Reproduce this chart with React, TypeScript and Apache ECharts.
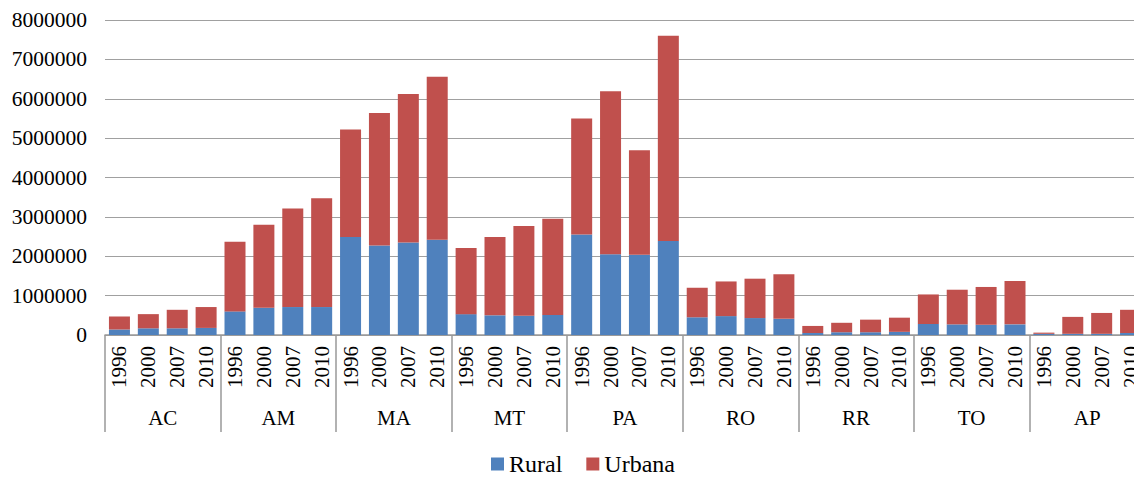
import React, { useEffect, useRef } from "react";
import * as echarts from "echarts";

const states = ["AC", "AM", "MA", "MT", "PA", "RO", "RR", "TO", "AP"];
const years = ["1996", "2000", "2007", "2010"];
const yTicks = { min: 0, max: 8000000, interval: 1000000 };

const rural = [
  140000, 170000, 170000, 180000,
  600000, 690000, 710000, 710000,
  2490000, 2270000, 2350000, 2420000,
  530000, 500000, 490000, 510000,
  2550000, 2050000, 2040000, 2390000,
  450000, 480000, 430000, 410000,
  50000, 70000, 70000, 80000,
  280000, 270000, 260000, 270000,
  30000, 30000, 30000, 50000,
];

const urbana = [
  330000, 360000, 470000, 530000,
  1770000, 2110000, 2500000, 2760000,
  2730000, 3370000, 3770000, 4140000,
  1680000, 1990000, 2280000, 2440000,
  2950000, 4140000, 2650000, 5210000,
  750000, 880000, 1000000, 1130000,
  180000, 240000, 320000, 360000,
  750000, 880000, 960000, 1100000,
  30000, 430000, 530000, 590000,
];

const FONT = "'Liberation Serif', 'Times New Roman', serif";

export default function App() {
  const ref = useRef<HTMLDivElement>(null);
  useEffect(() => {
    if (!ref.current) return;
    const chart = echarts.init(ref.current, null, { renderer: "svg" });
    const yearCats: string[] = [];
    states.forEach(() => years.forEach((y) => yearCats.push(y)));
    chart.setOption({
      animation: false,
      textStyle: { fontFamily: FONT },
      grid: { left: 105, right: 0, top: 20, bottom: 144, containLabel: false },
      legend: {
        data: ["Rural", "Urbana"],
        left: 486,
        top: 447,
        padding: 5,
        icon: "rect",
        itemWidth: 13,
        itemHeight: 13,
        itemGap: 24,
        textStyle: { fontFamily: FONT, fontSize: 24, lineHeight: 20, color: "#000" },
      },
      xAxis: [
        {
          type: "category",
          data: yearCats,
          axisLine: { show: true, lineStyle: { color: "#999", width: 1.5 } },
          axisTick: { show: false },
          axisLabel: {
            interval: 0,
            rotate: 90,
            margin: 11,
            fontFamily: FONT,
            fontSize: 21,
            color: "#000",
          },
        },
        {
          type: "category",
          data: states,
          position: "bottom",
          axisLine: { show: false },
          axisTick: { show: true, interval: 0, length: 97, lineStyle: { color: "#999", width: 1.5 } },
          axisLabel: {
            interval: 0,
            margin: 72,
            fontFamily: FONT,
            fontSize: 21,
            color: "#000",
          },
        },
      ],
      yAxis: {
        type: "value",
        min: yTicks.min,
        max: yTicks.max,
        interval: yTicks.interval,
        axisLine: { show: false },
        axisTick: { show: false },
        axisLabel: {
          margin: 18,
          fontFamily: FONT,
          fontSize: 21.5,
          color: "#000",
          formatter: (v: number) => String(v),
        },
        splitLine: { lineStyle: { color: "#a0a0a0", width: 1 } },
      },
      series: [
        {
          name: "Rural",
          type: "bar",
          stack: "total",
          xAxisIndex: 0,
          data: rural,
          barWidth: 21,
          itemStyle: { color: "#4f81bd" },
        },
        {
          name: "Urbana",
          type: "bar",
          stack: "total",
          xAxisIndex: 0,
          data: urbana,
          barWidth: 21,
          itemStyle: { color: "#c0504d" },
        },
      ],
    });
    return () => chart.dispose();
  }, []);
  return (
    <div
      ref={ref}
      style={{ position: "fixed", left: 0, top: 0, width: 1145, height: 479, background: "#fff" }}
    />
  );
}
